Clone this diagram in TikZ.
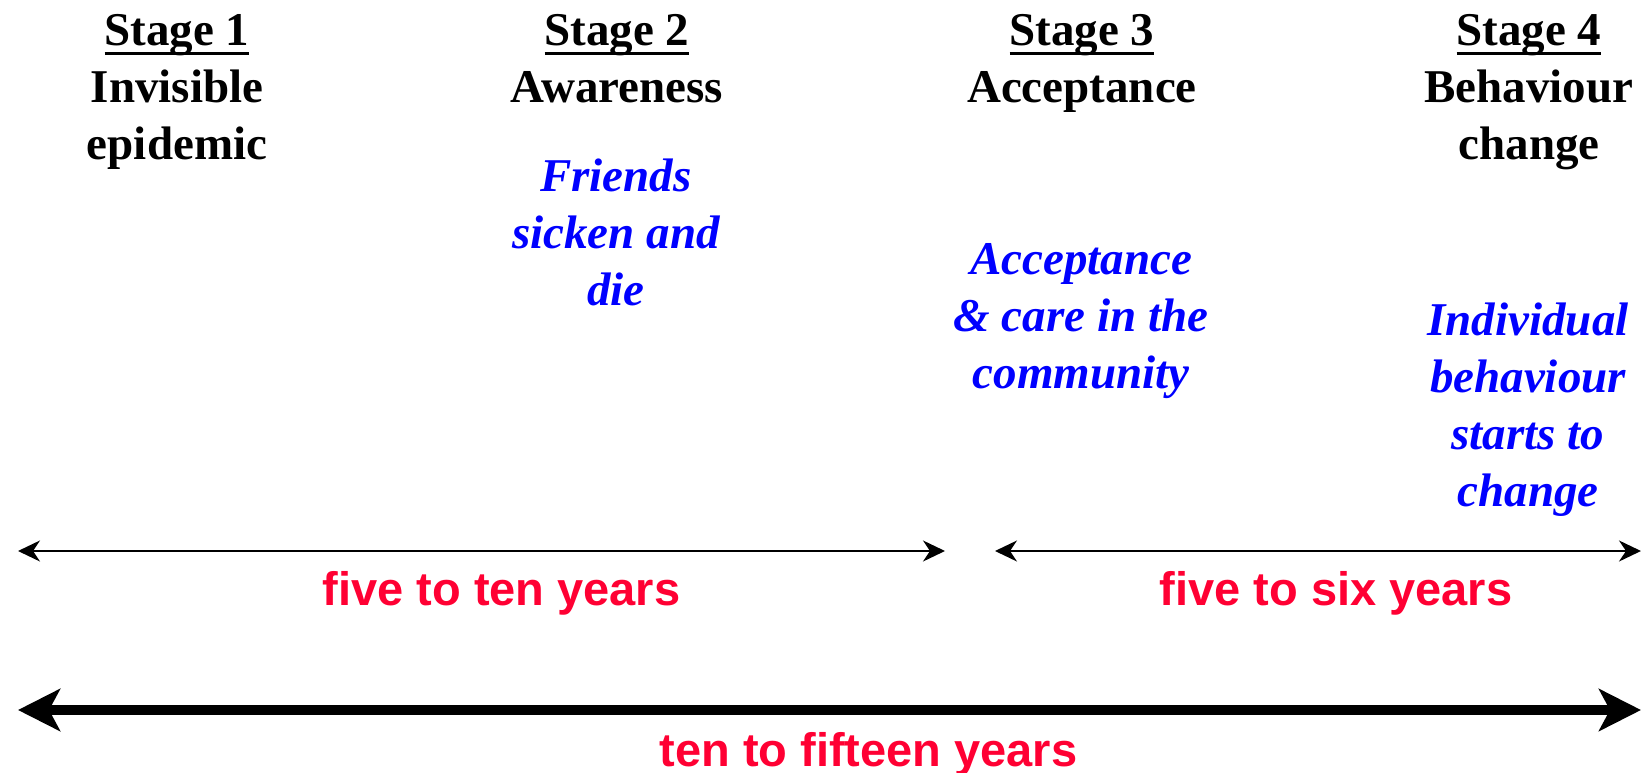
\documentclass[tikz,border=0pt]{standalone}
\usepackage{fontspec}
\setmainfont{Liberation Serif}
\setsansfont{Liberation Sans}
\usetikzlibrary{arrows.meta}

\definecolor{eventblue}{RGB}{0,0,255}
\definecolor{periodred}{RGB}{255,0,51}

% underlined stage heading with a heavier rule
\newcommand{\stageul}[1]{\setbox0=\hbox{#1}\rlap{\rule[-9.5pt]{\wd0}{3.5pt}}\box0}

\begin{document}
\begin{tikzpicture}[
    x=1pt,
    y=-1pt,
    stage/.style={
        anchor=north,
        align=center,
        inner sep=0pt,
        font=\fontsize{47}{57}\selectfont\bfseries
    },
    event/.style={
        stage,
        text=eventblue,
        font=\fontsize{47}{57}\selectfont\bfseries\itshape
    },
    period/.style={
        anchor=base,
        inner sep=0pt,
        text=periodred,
        font=\fontsize{47}{57}\selectfont\sffamily\bfseries
    },
    thinspan/.style={
        draw,
        line width=2pt,
        {Stealth[length=22pt,width=21pt,inset=7pt]}-{Stealth[length=22pt,width=21pt,inset=7pt]}
    },
    thickspan/.style={
        draw,
        line width=10pt,
        {Stealth[length=42pt,width=42pt,inset=11pt]}-{Stealth[length=42pt,width=42pt,inset=11pt]}
    }
]

    \useasboundingbox (0,0) rectangle (1641,773);

    % --- Top Row: Stage Headings ---
    \node [stage] (stage1) at (177,14.5) {\stageul{Stage 1}\\Invisible\\epidemic};
    \node [stage] (stage2) at (617,14.5) {\stageul{Stage 2}\\Awareness};
    \node [stage] (stage3) at (1082,14.5) {\stageul{Stage 3}\\Acceptance};
    \node [stage] (stage4) at (1529,14.5) {\stageul{Stage 4}\\Behaviour\\change};

    % --- Events under each stage ---
    \node [event] (friends) at (616,158.5) {Friends\\sicken and\\die};
    \node [event] (care) at (1081,243.5) {Acceptance\\\& care in the\\community};
    \node [event] (change) at (1528,302.5) {Individual\\behaviour\\starts to\\change};

    % --- Time Spans ---
    \coordinate (early w) at (18,551);
    \coordinate (early e) at (945,551);
    \coordinate (late w) at (995,551);
    \coordinate (late e) at (1641,551);
    \coordinate (total w) at (18,710);
    \coordinate (total e) at (1641,710);

    \path [thinspan] (early w) -- (early e);
    \path [thinspan] (late w) -- (late e);
    \path [thickspan] (total w) -- (total e);

    % span labels
    \node [period] (early) at (501.5,605) {five to ten years};
    \node [period] (late) at (1336,605) {five to six years};
    \node [period] (total) at (868.5,766) {ten to fifteen years};

\end{tikzpicture}
\end{document}
